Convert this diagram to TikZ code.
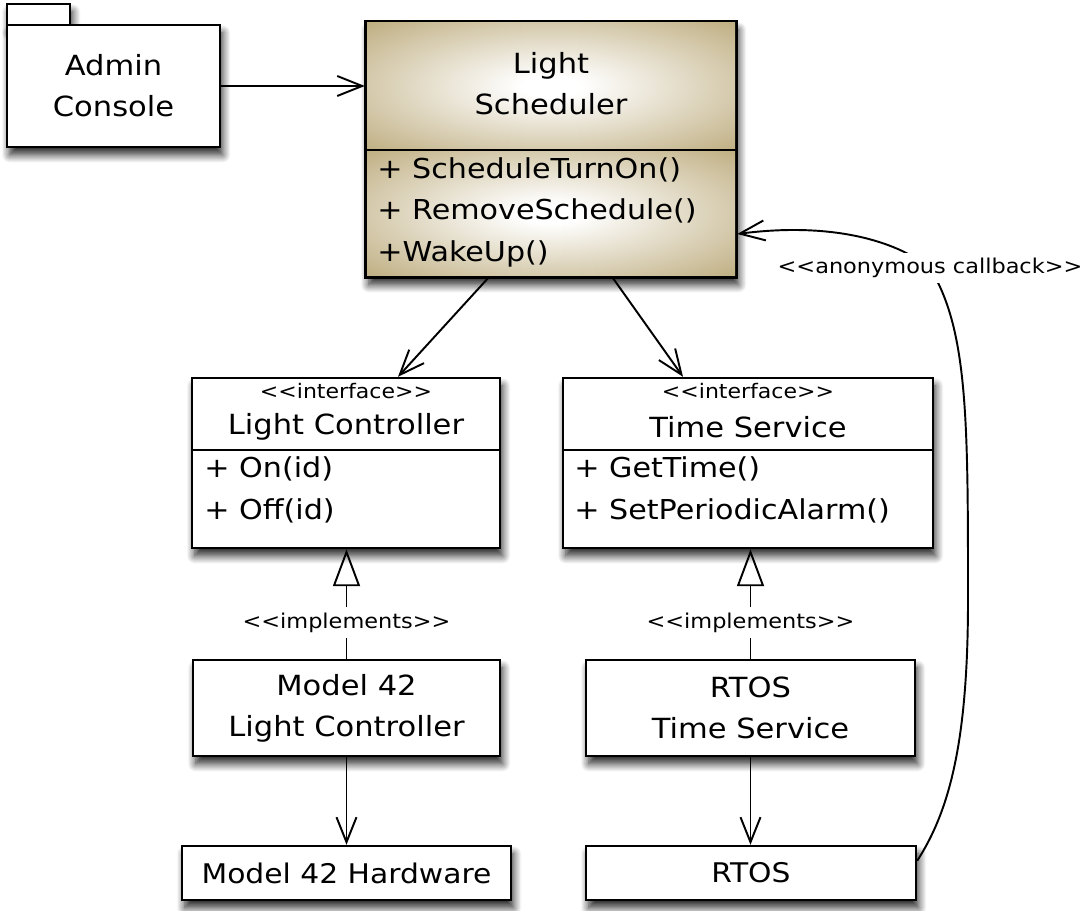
\documentclass[tikz,border=0pt]{standalone}
\usepackage{fontspec}
\setmainfont[FakeStretch=1.1]{DejaVu Sans}
\usetikzlibrary{arrows.meta,shadows.blur,calc}
\definecolor{tanc}{RGB}{182,163,112}
\pgfdeclareradialshading{tanshade}{\pgfpoint{0bp}{0bp}}{color(0bp)=(white); color(4bp)=(white); color(40bp)=(tanc); color(70bp)=(tanc!92!black)}
\newcommand\nmfont{\fontsize{15.8pt}{23.3pt}\selectfont}
\newcommand\mthfont{\fontsize{15.6pt}{23.6pt}\selectfont}
\newcommand\stfont{\fontsize{11.4pt}{13pt}\selectfont}
\newcommand\lbfont{\fontsize{11.6pt}{13pt}\selectfont}
\newcommand\hwfont{\fontsize{15.4pt}{18pt}\selectfont}
\newcommand\ltlt{<\kern0pt<}
\newcommand\gtgt{>\kern0pt>}
\begin{document}
\begin{tikzpicture}[x=0.02cm,y=-0.02cm,
  boxline/.style={draw=black, line width=1.4pt},
  shadowed/.style={blur shadow={shadow xshift=1.5pt, shadow yshift=-4.5pt, shadow blur radius=4.5pt, shadow blur steps=10, shadow opacity=85}},
  umlbox/.style={boxline, fill=white, rectangle, inner sep=0pt, shadowed, font=\nmfont, align=center},
  nm/.style={inner sep=0pt, font=\nmfont, align=center},
  mth/.style={inner sep=0pt, font=\mthfont, align=left, anchor=west},
  st/.style={inner sep=0pt, font=\stfont},
  lbl/.style={fill=white, inner sep=3pt, font=\lbfont},
  conn/.style={line width=1.1pt},
  openarrow/.style={conn, -{Straight Barb[length=0.5cm,width=0.4cm]}},
  realize/.style={conn, -{Triangle[open, length=0.74cm, width=0.54cm]}}
]
\useasboundingbox (0,0) rectangle (1086,911);

% Admin Console (package)
\draw[boxline, fill=white, shadowed] (7,4) rectangle (70,25);
\node[umlbox, minimum width=4.26cm, minimum height=2.44cm] (admin) at (113.5,86) {Admin\\Console};

% Light Scheduler
\node[umlbox, fill=tanc, minimum width=7.4cm, minimum height=5.1cm] (sched) at (551,149.5) {};
\shade[shading=tanshade] (367,23) rectangle (735,150);
\shade[shading=tanshade] (367,150) rectangle (735,276);
\draw[boxline] (sched.north west) rectangle (sched.south east);
\draw[boxline] (366,150) -- (736,150);
\node[nm] (schedname) at (551,84) {Light\\Scheduler};
\node[mth] (schedops) at (377,212) {+ ScheduleTurnOn()\\+ RemoveSchedule()\\+WakeUp()};

% Light Controller interface
\node[umlbox, minimum width=6.16cm, minimum height=3.4cm] (lc) at (346,463) {};
\draw[boxline] (192,450) -- (500,450);
\node[st] (lcst) at (346,391) {\ltlt interface\gtgt};
\node[nm] (lcname) at (346,427) {Light Controller};
\node[mth] (lcops) at (204,490) {+ On(id)\\+ Off(id)};

% Time Service interface
\node[umlbox, minimum width=7.4cm, minimum height=3.4cm] (ts) at (748,463) {};
\draw[boxline] (563,450) -- (933,450);
\node[st] (tsst) at (748,391) {\ltlt interface\gtgt};
\node[nm] (tsname) at (748,427) {Time Service};
\node[mth] (tsops) at (574,490) {+ GetTime()\\+ SetPeriodicAlarm()};

% Implementations
\node[umlbox, minimum width=6.14cm, minimum height=1.92cm] (m42) at (346.5,708) {Model 42\\Light Controller};
\node[umlbox, minimum width=6.58cm, minimum height=1.92cm] (rtosts) at (750.5,708) {RTOS\\Time Service};

% Hardware
\node[umlbox, font=\hwfont, minimum width=6.58cm, minimum height=1.08cm] (hw) at (346.5,873) {Model 42 Hardware};
\node[umlbox, font=\hwfont, minimum width=6.6cm, minimum height=1.08cm] (rtos) at (751,873) {RTOS};

% Connectors
\draw[openarrow] (admin.east) -- (admin.east -| sched.west);
\draw[openarrow] ($(sched.south)+(-63,0)$) -- ($(lc.north)+(52,0)$);
\draw[openarrow] ($(sched.south)+(62,0)$) -- ($(ts.north)+(-65,0)$);
\draw[realize] (m42.north) -- node[lbl, pos=0.33] (impl1) {\ltlt implements\gtgt} (m42.north |- lc.south);
\draw[realize] (rtosts.north) -- node[lbl, pos=0.33] (impl2) {\ltlt implements\gtgt} (rtosts.north |- ts.south);
\draw[openarrow] (m42.south) -- (m42.south |- hw.north);
\draw[openarrow] (rtosts.south) -- (rtosts.south |- rtos.north);

% Anonymous callback
\coordinate (cbstart) at ($(rtos.north east)+(0,16)$);
\coordinate (cbend) at ($(sched.east)+(0,84.5)$);
\coordinate (cbmid) at (968,600);
\coordinate (cblpt) at (930,268);
\draw[openarrow] (cbstart) .. controls (950,810) and (968,740) .. (cbmid)
  .. controls (968,420) and (968,330) .. (cblpt)
  .. controls (895,240) and (830,222) .. (cbend);
\node[lbl] (cblbl) at (cblpt) {\ltlt anonymous callback\gtgt};
\end{tikzpicture}
\end{document}
